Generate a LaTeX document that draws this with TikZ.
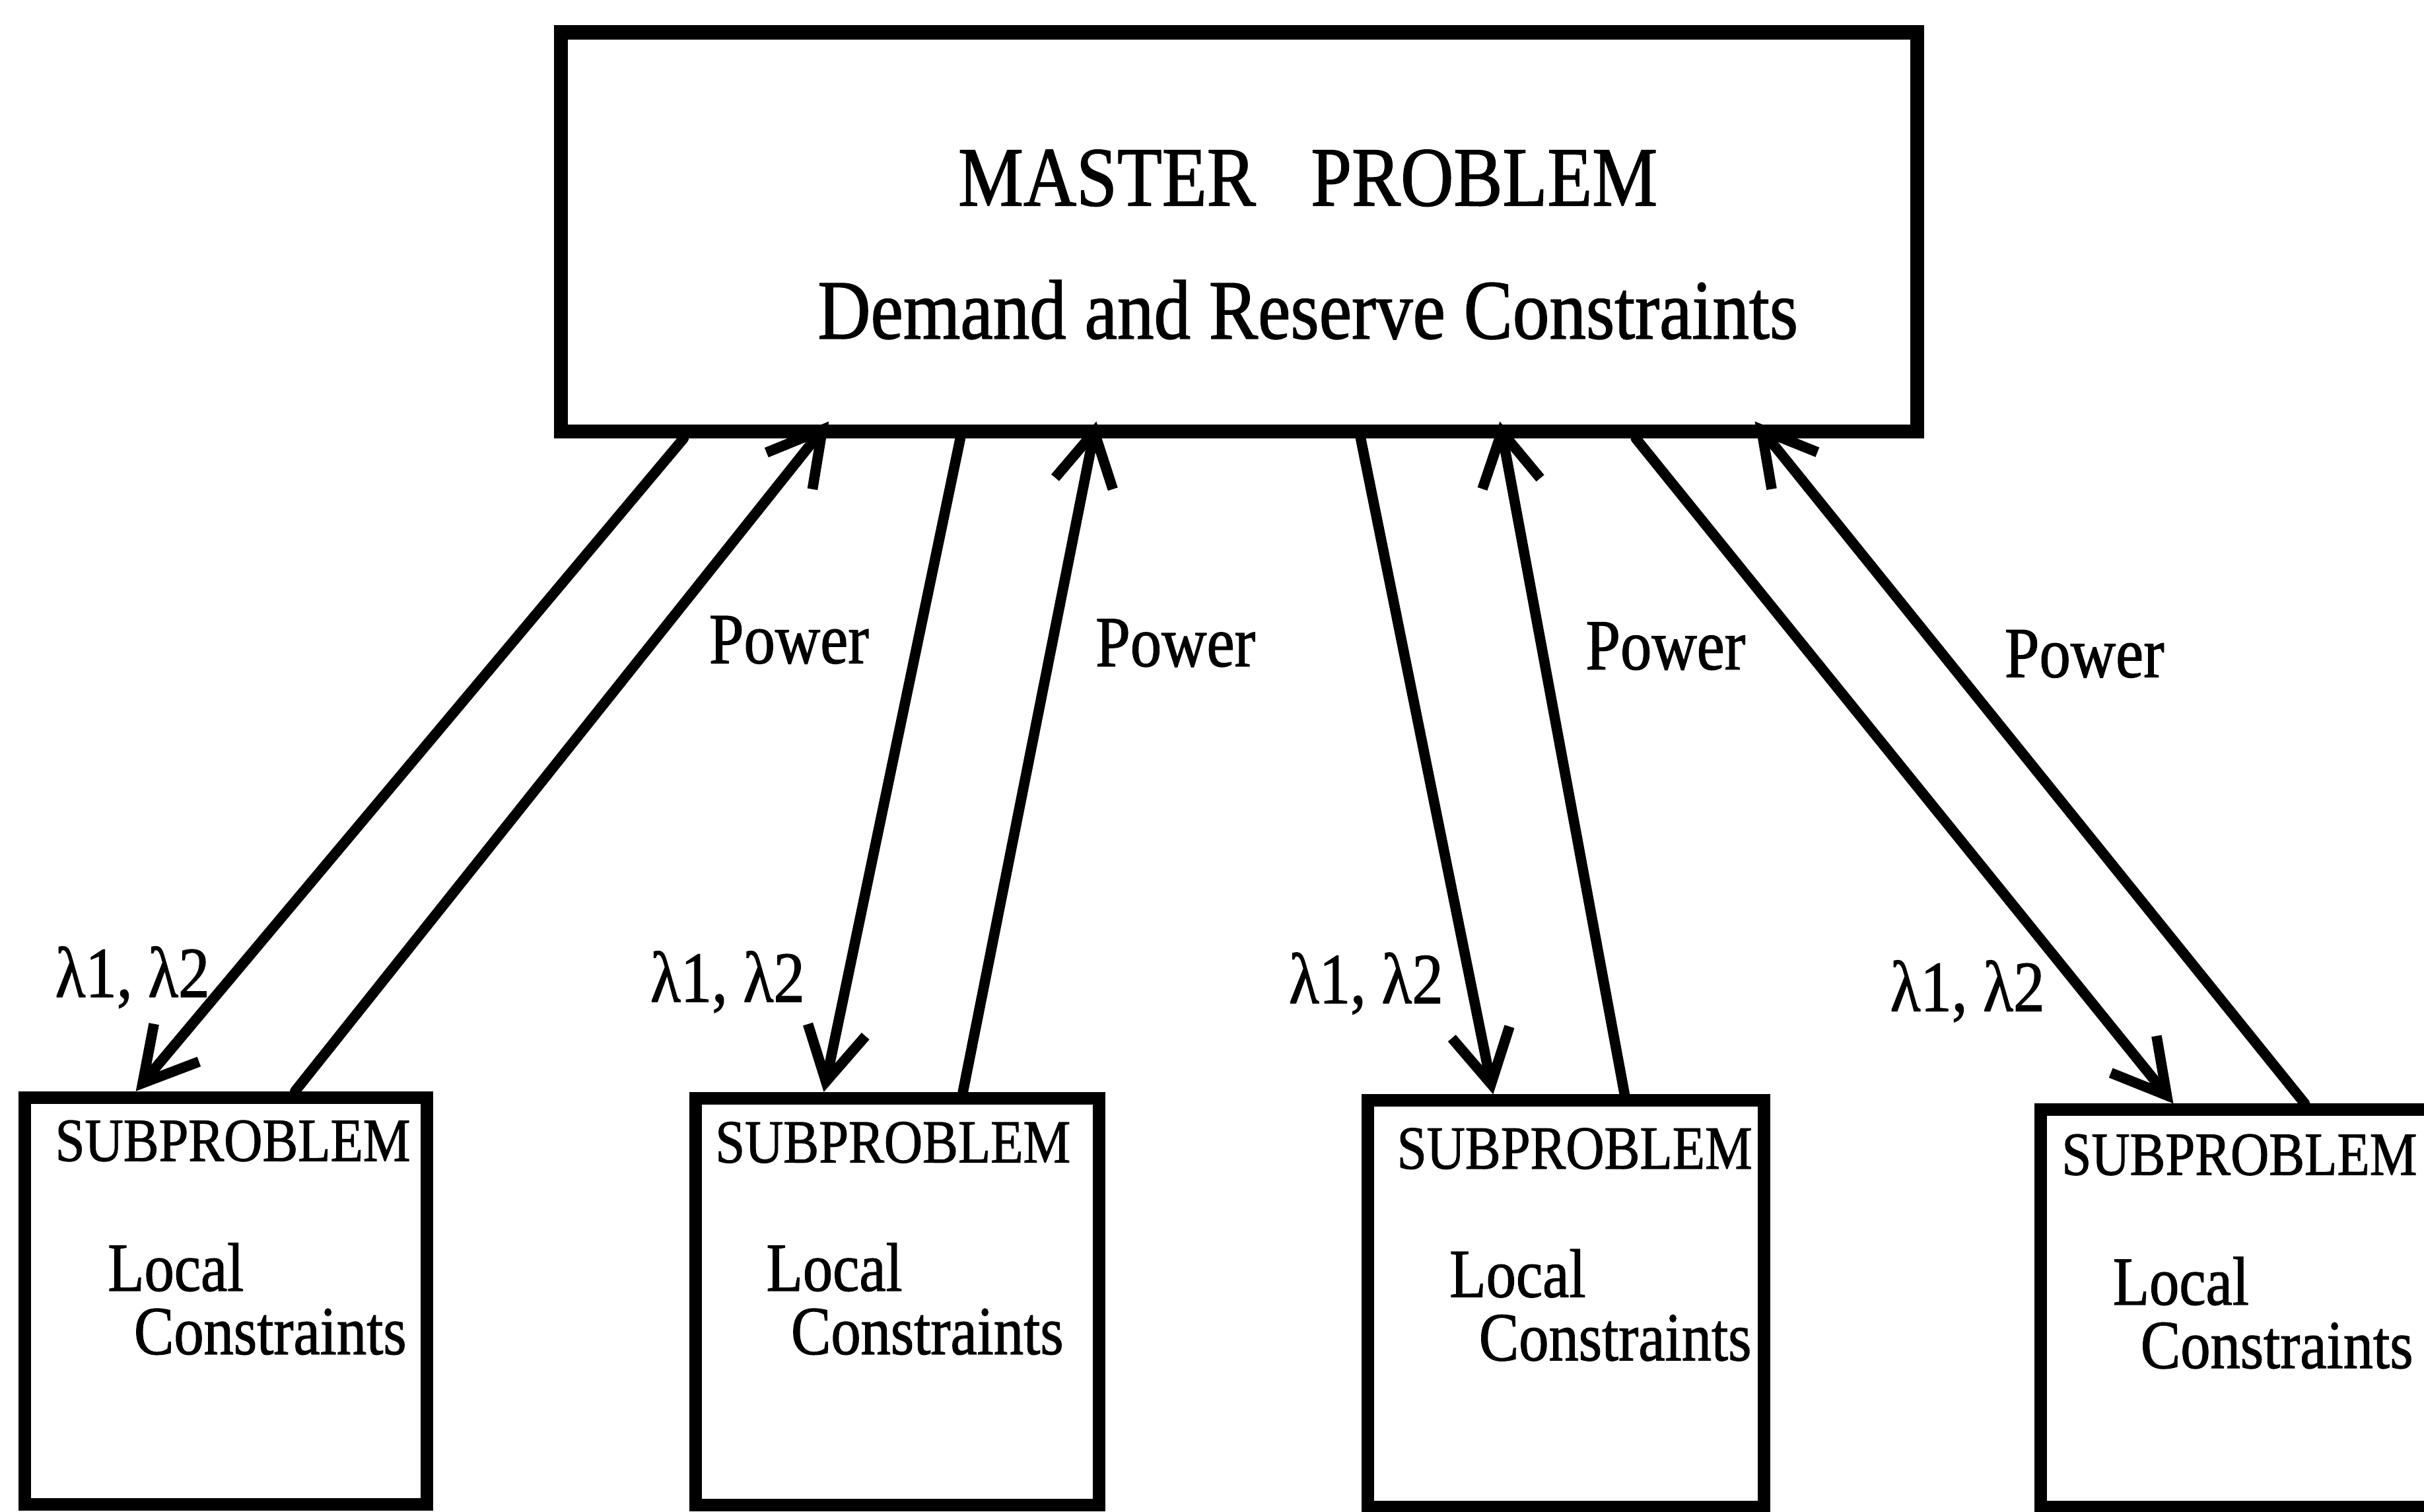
\documentclass[tikz,border=0pt]{standalone}
\usepackage{fontspec}
\usepackage{graphicx}
\setmainfont{Liberation Serif}[FakeBold=1.2]
\usetikzlibrary{arrows.meta,calc}
\newcommand{\tallt}[1]{\scalebox{1}[1.15]{#1}}
\begin{document}
\begin{tikzpicture}[x=0.01cm,y=-0.01cm,
  boxm/.style={draw,line width=2.6pt,rectangle,inner sep=0pt},
  boxs/.style={draw,line width=2.3pt,rectangle,inner sep=0pt,minimum height=2.63cm},
  txt/.style={inner sep=0pt,anchor=base west},
  mtxt/.style={inner sep=0pt,anchor=base,font=\fontsize{13.5}{16}\selectfont},
  lam/.style={txt,font=\fontsize{11.5}{14}\selectfont},
  pow/.style={txt,font=\fontsize{11.5}{14}\selectfont},
  sub/.style={txt,font=\fontsize{9.8}{12}\selectfont},
  loc/.style={txt,font=\fontsize{11}{13}\selectfont},
  conn/.style={line width=1.9pt,line cap=round,-{Straight Barb[length=3.4mm,width=3.8mm]}},
]
\useasboundingbox (0,0) rectangle (1568,978);
\clip (0,0) rectangle (1568,978);

% master
\node[boxm,minimum width=8.77cm,minimum height=2.58cm] (master) at (801.5,150) {};
\node[mtxt] (mt1) at (846,133) {\tallt{MASTER\hspace{0.75em}PROBLEM}};
\node[mtxt] (mt2) at (846,219) {\tallt{Demand and Reserve Constraints}};

% subproblems
\node[boxs,minimum width=2.60cm] (s1) at (146,841.5) {};
\node[boxs,minimum width=2.61cm] (s2) at (580.5,842) {};
\node[boxs,minimum width=2.56cm] (s3) at (1013,843.5) {};
\node[boxs,minimum width=2.60cm,minimum height=2.57cm] (s4) at (1450,846.5) {};

\node[sub] (t1) at (35,751) {\tallt{SUBPROBLEM}};
\node[sub] (t2) at (462,752) {\tallt{SUBPROBLEM}};
\node[sub] (t3) at (903,756) {\tallt{SUBPROBLEM}};
\node[sub] (t4) at (1333,760) {\tallt{SUBPROBLEM}};

\node[loc] (l1) at (69,835) {\tallt{Local}};
\node[loc] (l2) at (495,835) {\tallt{Local}};
\node[loc] (l3) at (937,839) {\tallt{Local}};
\node[loc] (l4) at (1366,844) {\tallt{Local}};

\node[loc] (c1) at (86,876) {\tallt{Constraints}};
\node[loc] (c2) at (511,876) {\tallt{Constraints}};
\node[loc] (c3) at (956,880) {\tallt{Constraints}};
\node[loc] (c4) at (1384,885) {\tallt{Constraints}};

% labels
\node[lam] (la1) at (35,645) {\tallt{λ1, λ2}};
\node[lam] (la2) at (420,648) {\tallt{λ1, λ2}};
\node[lam] (la3) at (833,649) {\tallt{λ1, λ2}};
\node[lam] (la4) at (1222,654) {\tallt{λ1, λ2}};

\node[pow] (p1) at (458,429) {\tallt{Power}};
\node[pow] (p2) at (708,431) {\tallt{Power}};
\node[pow] (p3) at (1025,433) {\tallt{Power}};
\node[pow] (p4) at (1296,438) {\tallt{Power}};

% connector ends
\coordinate (d1s) at ($(master.south west)+(84,0)$);
\coordinate (d1e) at ($(s1.north west)+(76,0)$);
\coordinate (u1s) at ($(s1.north west)+(179,0)$);
\coordinate (u1e) at ($(master.south west)+(178,-11)$);

\coordinate (d2s) at ($(master.south west)+(263,0)$);
\coordinate (d2e) at ($(s2.north west)+(87,0)$);
\coordinate (u2s) at ($(s2.north west)+(177,0)$);
\coordinate (u2e) at ($(master.south west)+(351,-11)$);

\coordinate (d3s) at ($(master.south west)+(522,0)$);
\coordinate (d3e) at ($(s3.north west)+(85,0)$);
\coordinate (u3s) at ($(s3.north west)+(170,0)$);
\coordinate (u3e) at ($(master.south west)+(612,-11)$);

\coordinate (d4s) at ($(master.south west)+(700,0)$);
\coordinate (d4e) at ($(s4.north west)+(90,0)$);
\coordinate (u4s) at ($(s4.north west)+(175,0)$);
\coordinate (u4e) at ($(master.south west)+(777,-11)$);

\draw[conn] (d1s) -- (d1e);
\draw[conn] (u1s) -- (u1e);
\draw[conn] (d2s) -- (d2e);
\draw[conn] (u2s) -- (u2e);
\draw[conn] (d3s) -- (d3e);
\draw[conn] (u3s) -- (u3e);
\draw[conn] (d4s) -- (d4e);
\draw[conn] (u4s) -- (u4e);
\end{tikzpicture}
\end{document}
